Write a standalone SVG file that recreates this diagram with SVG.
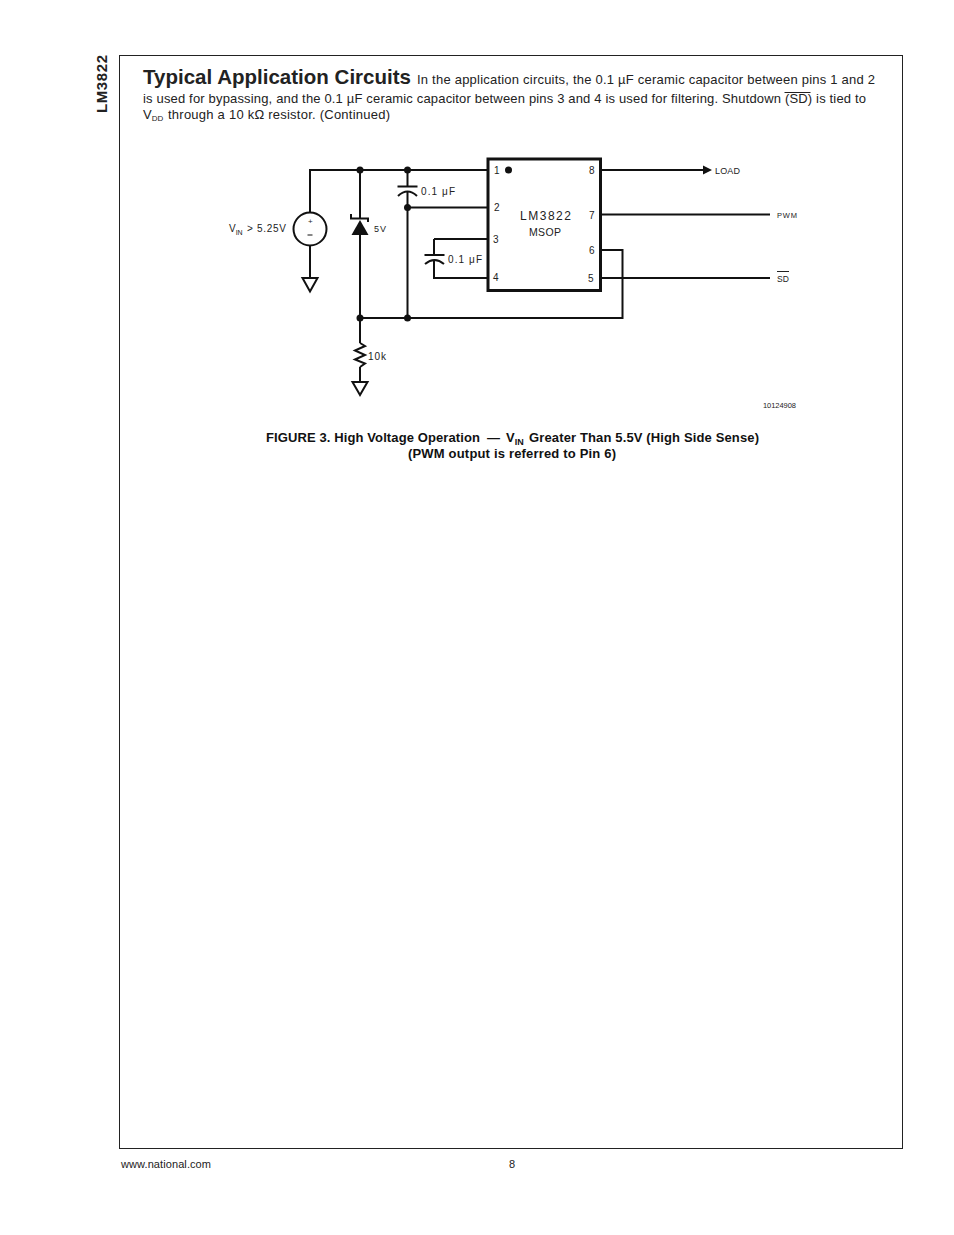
<svg xmlns="http://www.w3.org/2000/svg" width="954" height="1235" viewBox="0 0 954 1235">
<style>
.b{font-family:"Liberation Sans",Arial,sans-serif;fill:#222}
.p{font-size:13px}
.s{font-family:"Liberation Sans",Arial,sans-serif;fill:#222;font-size:10px}
.w{fill:none;stroke:#111;stroke-width:2}
.d{fill:#111}
.f{font-family:"Liberation Sans",Arial,sans-serif;font-weight:bold;font-size:13px;fill:#111}
</style>
<rect width="954" height="1235" fill="#fff"/>
<g id="page"><rect x="119.500" y="55.500" width="783" height="1093" fill="none" stroke="#222" stroke-width="1"/>
<text class="b" transform="translate(107,113) rotate(-90)" font-size="15" font-weight="bold" textLength="58">LM3822</text>
<text class="b" x="143" y="84" font-size="20.500" font-weight="bold" textLength="268">Typical Application Circuits</text>
<text class="b p" x="417" y="84" textLength="458">In the application circuits, the 0.1 µF ceramic capacitor between pins 1 and 2</text>
<text class="b p" x="143" y="103" textLength="723">is used for bypassing, and the 0.1 µF ceramic capacitor between pins 3 and 4 is used for filtering. Shutdown (SD) is tied to</text>
<path d="M784.500 92.500H810.500" stroke="#222" stroke-width="1"/>
<text class="b p" x="143" y="119">V<tspan font-size="8" dy="2">DD</tspan></text>
<text class="b p" x="168" y="119" textLength="222">through a 10 kΩ resistor.  (Continued)</text>
<text class="b" x="121" y="1168" font-size="11" textLength="90">www.national.com</text>
<text class="b" x="509" y="1168" font-size="11">8</text></g>
<g id="connectors">
<path class="w" d="M310 212V170H487M360 170V218M360 235V318M407.500 170V187M407.500 192V318M407.500 207.500H487M360 318H622.500V250H601M434 239H487M434 239V255M434 261V278H487M601 170H705M601 214.500H770M601 278H770M310 246V278M360 318V343M360 367V382"/>
<path class="d" d="M703 165.500L712 170L703 174.500Z"/>
<circle class="d" cx="360" cy="170" r="3.500"/><circle class="d" cx="407.500" cy="170" r="3.500"/><circle class="d" cx="407.500" cy="207.500" r="3.500"/><circle class="d" cx="360" cy="318" r="3.500"/><circle class="d" cx="407.500" cy="318" r="3.500"/>
</g>
<g id="ic"><rect x="488" y="159" width="112.500" height="131.500" fill="#fff" stroke="#111" stroke-width="3"/>
<circle class="d" cx="508.500" cy="170" r="3.500"/>
<text class="s" x="494" y="174">1</text><text class="s" x="494" y="211">2</text><text class="s" x="493" y="243">3</text><text class="s" x="493" y="281">4</text>
<text class="s" x="588" y="282">5</text><text class="s" x="589" y="254">6</text><text class="s" x="589" y="219">7</text><text class="s" x="589" y="174">8</text>
<text class="s" x="520" y="220" style="font-size:12px" textLength="51">LM3822</text>
<text class="s" x="529" y="236" style="font-size:10.500px" textLength="32">MSOP</text></g>
<g id="source"><circle cx="310" cy="229" r="16.500" fill="#fff" stroke="#111" stroke-width="2"/>
<text class="s" x="308" y="224" style="font-size:8px">+</text><path d="M307.500 235H312.500" stroke="#111"/>
<text class="s" x="229" y="232">V<tspan style="font-size:7px" dy="3">IN</tspan></text><text class="s" x="247" y="232" textLength="39">&gt; 5.25V</text>
<path class="w" d="M302.500 278H317.500L310 291.500Z"/></g>
<g id="zener"><path class="d" d="M351.500 235H368.500L360 220Z"/><path class="w" stroke-width="1.500" d="M351 214V218.500H368V222"/><text class="s" x="374" y="232" style="font-size:9px" textLength="12">5V</text></g>
<g id="c1"><path class="w" d="M397.500 186.500H417.500M398 196Q407.500 187 417 196"/><text class="s" x="421" y="195" textLength="34">0.1 μF</text></g>
<g id="c2"><path class="w" d="M424.500 255H444.500M425 264Q434.500 256 444 264"/><text class="s" x="448" y="263" textLength="34">0.1 μF</text></g>
<g id="r1"><path class="w" d="M360 343L365 346L355 350.500L365 355L355 359.500L365 363.500L360 367"/><text class="s" x="368" y="360" textLength="18">10k</text></g>
<g id="gnd2"><path class="w" d="M352.500 382H367.500L360 395Z"/></g>
<g id="labels"><text class="s" x="715" y="174" style="font-size:9px" textLength="25">LOAD</text><text class="s" x="777" y="218" style="font-size:7.500px" textLength="20">PWM</text>
<text class="s" x="777" y="282" style="font-size:8.500px" textLength="12">SD</text><path d="M777 271.500H789" stroke="#222" stroke-width="1"/>
<text class="b" x="763" y="408" font-size="7.500" textLength="33">10124908</text></g>
<g id="caption"><text class="f" x="266" y="442" textLength="214">FIGURE 3. High Voltage Operation</text><text class="f" x="487" y="442" textLength="13">—</text><text class="f" x="506" y="442">V<tspan font-size="9" dy="3">IN</tspan></text><text class="f" x="529" y="442" textLength="230">Greater Than 5.5V (High Side Sense)</text>
<text class="f" x="408" y="458" textLength="208">(PWM output is referred to Pin 6)</text></g>
</svg>
